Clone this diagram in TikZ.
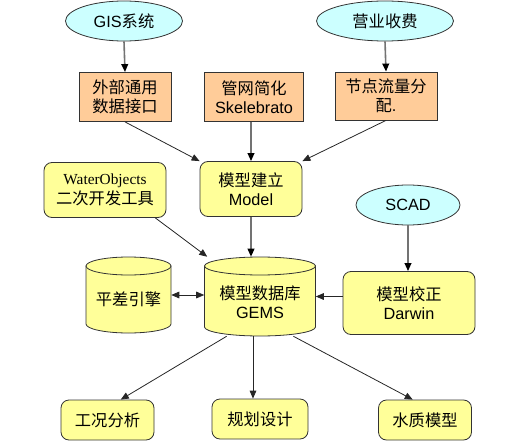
\documentclass[tikz,border=0pt]{standalone}
\usepackage{fontspec}
\setmainfont{Liberation Sans}
\newfontfamily\cjk{Noto Sans CJK SC}
\newfontfamily\tms{Liberation Serif}
\usetikzlibrary{shapes.geometric,arrows.meta,calc}
\definecolor{ovalfill}{HTML}{CCFFFF}
\definecolor{orfill}{HTML}{FFCC99}
\definecolor{yefill}{HTML}{FFFF99}
\begin{document}
\begin{tikzpicture}[x=0.75pt,y=-0.75pt,
  every node/.style={font=\fontsize{12.2}{14.6}\selectfont, align=center, inner sep=0pt},
  oval/.style={ellipse, draw=black!80, line width=0.6pt, fill=ovalfill},
  obox/.style={rectangle, draw=black!80, line width=0.6pt, fill=orfill},
  ybox/.style={rectangle, rounded corners=6pt, draw=black!80, line width=0.6pt, fill=yefill},
  cyl/.style={draw=black!80, line width=0.6pt, fill=yefill},
  ghost/.style={rectangle, draw=none},
  garrow/.style={draw=black!55, line width=1.2pt, -{Triangle[length=6pt,width=5pt,fill=black,color=black]}},
  karrow/.style={draw=black!85, line width=0.6pt, -{Triangle[length=6pt,width=5pt]}},
  barrow/.style={draw=black!85, line width=0.6pt, {Triangle[length=6pt,width=5pt]}-{Triangle[length=6pt,width=5pt]}}
]
\useasboundingbox (0,0) rectangle (531,442);

% ellipses
\node[oval, minimum width=87.75pt, minimum height=30pt] (gis) at (124,21) {GIS{\cjk 系统}};
\node[oval, minimum width=102.75pt, minimum height=30pt] (fee) at (385,21) {\cjk 营业收费};
\node[oval, minimum width=78pt, minimum height=30pt] (scad) at (408,205) {SCAD};

% orange boxes
\node[obox, minimum width=69pt, minimum height=36.75pt] (ext) at (125,97) {\cjk 外部通用\\\cjk 数据接口};
\node[obox, minimum width=74.25pt, minimum height=36.75pt] (pipe) at (254,97) {\cjk 管网简化\\Skelebrato};
\node[obox, minimum width=76.5pt, minimum height=36pt] (flow) at (386,96) {\cjk 节点流量分\\{\cjk 配}.};

% yellow rounded boxes
\node[ybox, minimum width=76.5pt, minimum height=41.25pt] (model) at (251,189) {\cjk 模型建立\\Model};
\node[ybox, minimum width=91.5pt, minimum height=41.25pt] (wo) at (105,190) {{\tms\fontsize{11.5}{14.6}\selectfont WaterObjects}\\\cjk 二次开发工具};
\node[ybox, minimum width=99pt, minimum height=47.25pt] (cal) at (409,303) {\cjk 模型校正\\Darwin};
\node[ybox, minimum width=69.75pt, minimum height=30pt] (work) at (107.5,420) {\cjk 工况分析};
\node[ybox, minimum width=72pt, minimum height=30pt] (plan) at (260,419) {\cjk 规划设计};
\node[ybox, minimum width=69.75pt, minimum height=30pt] (wq) at (425,420) {\cjk 水质模型};

% cylinders
\path[cyl] (204.5,266) -- (204.5,327) arc[start angle=180, end angle=0, x radius=55.5, y radius=9] -- (315.5,266) -- cycle;
\path[cyl] (260,266) ellipse[x radius=55.5, y radius=9];
\node[ghost, minimum width=83.25pt, minimum height=59.25pt] (gems) at (260,296.5) {};
\node (gemst) at (260,302) {\cjk 模型数据库\\GEMS};

\path[cyl] (86,266) -- (86,324) arc[start angle=180, end angle=0, x radius=42.5, y radius=9] -- (171,266) -- cycle;
\path[cyl] (128.5,266) ellipse[x radius=42.5, y radius=9];
\node[ghost, minimum width=63.75pt, minimum height=57pt] (pc) at (128.5,295) {};
\node (pct) at (128.5,299) {\cjk 平差引擎};

% connectors
\draw[garrow] (gis.south) -- (ext.north);
\draw[garrow] (fee.south) -- (flow.north);
\draw[karrow] (ext.south) -- (model.north west);
\draw[garrow] (pipe.south -| model.north) -- (model.north);
\draw[karrow] (flow.south) -- (model.north east);
\draw[garrow] (model.south) -- (model.south |- gems.north);
\draw[karrow] (wo.-29) -- (gems.143.5);
\draw[barrow] (pc.east) -- (pc.east -| gems.west);
\draw[karrow] (cal.west |- gems.east) -- (gems.east);
\draw[garrow] (scad.south) -- (scad.south |- cal.north);
\draw[karrow] (gems.-130) -- (work.57);
\draw[karrow] (gems.-100) -- (gems.-100 |- plan.north);
\draw[karrow] (gems.-50.6) -- (wq.121);
\end{tikzpicture}
\end{document}
